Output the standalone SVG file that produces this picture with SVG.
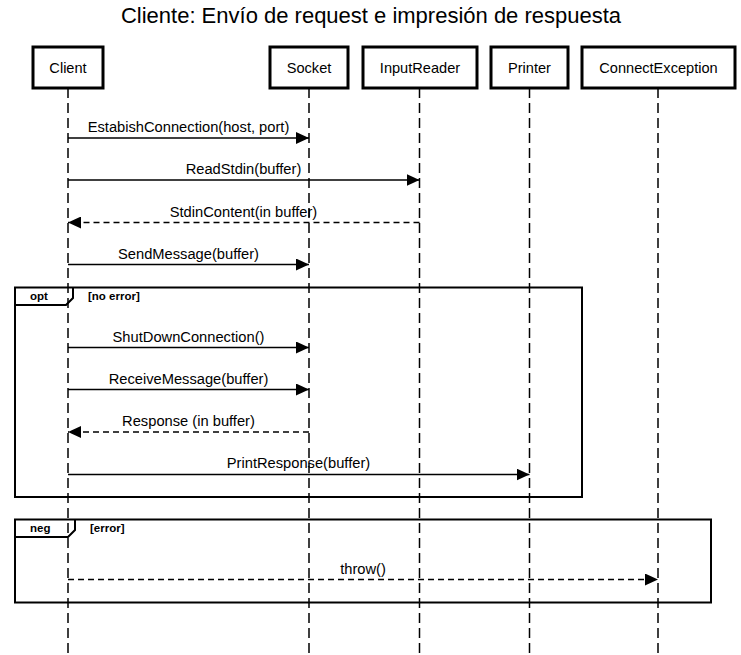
<svg xmlns="http://www.w3.org/2000/svg" width="741" height="655" viewBox="0 0 741 655">
<defs>
<style>
text{font-family:"Liberation Sans",Arial,sans-serif;fill:#000}
.title{font-size:22px;text-anchor:middle}
.pbox{fill:#fff;stroke:#000;stroke-width:3}
.pl{font-size:14.6px;text-anchor:middle}
.life{stroke:#000;stroke-width:1.5;stroke-dasharray:10 5;fill:none}
.msg{stroke:#000;stroke-width:1.3;fill:none}
.dash{stroke-dasharray:6 4}
.ml{font-size:14.7px;text-anchor:middle}
.frame{fill:none;stroke:#000;stroke-width:2}
.fl{font-size:11.5px;font-weight:bold}
</style>
<marker id="ah" viewBox="0 0 13 12" refX="13" refY="6" markerWidth="13" markerHeight="12" markerUnits="userSpaceOnUse" orient="auto">
<path d="M0,0 L13,6 L0,12 Z" fill="#000"/>
</marker>
</defs>
<text class="title" x="371" y="23">Cliente: Envío de request e impresión de respuesta</text>
<g id="lifelines">
<line class="life" x1="68" y1="88" x2="68" y2="655"/>
<line class="life" x1="309" y1="88" x2="309" y2="655"/>
<line class="life" x1="419.5" y1="88" x2="419.5" y2="655"/>
<line class="life" x1="529.5" y1="88" x2="529.5" y2="655"/>
<line class="life" x1="658" y1="88" x2="658" y2="655"/>
</g>
<g id="Client"><rect class="pbox" x="33" y="47" width="70" height="41"/><text class="pl" x="68" y="73">Client</text></g>
<g id="Socket"><rect class="pbox" x="270" y="47" width="78" height="41"/><text class="pl" x="309" y="73">Socket</text></g>
<g id="InputReader"><rect class="pbox" x="363" y="47" width="114" height="41"/><text class="pl" x="420" y="73">InputReader</text></g>
<g id="Printer"><rect class="pbox" x="491" y="47" width="77" height="41"/><text class="pl" x="529.5" y="73">Printer</text></g>
<g id="ConnectException"><rect class="pbox" x="582" y="47" width="153" height="41"/><text class="pl" x="658.5" y="73">ConnectException</text></g>
<g id="frame-opt">
<rect class="frame" x="15" y="287.5" width="567" height="209.5"/>
<path class="frame" d="M15,305 H66 L73,298 V287.5"/>
<text class="fl" x="30" y="300">opt</text>
<text class="fl" x="88" y="300">[no error]</text>
</g>
<g id="frame-neg">
<rect class="frame" x="15" y="519.5" width="696" height="83"/>
<path class="frame" d="M15,537 H68 L75,530 V519.5"/>
<text class="fl" x="30" y="532">neg</text>
<text class="fl" x="90" y="532">[error]</text>
</g>
<g id="connectors">
<line class="msg" x1="68" y1="138" x2="309" y2="138" marker-end="url(#ah)"/>
<text class="ml" x="188.5" y="132">EstabishConnection(host, port)</text>
<line class="msg" x1="68" y1="180" x2="419.5" y2="180" marker-end="url(#ah)"/>
<text class="ml" x="243.5" y="174">ReadStdin(buffer)</text>
<line class="msg dash" x1="419.5" y1="222.5" x2="68" y2="222.5" marker-end="url(#ah)"/>
<text class="ml" x="243.5" y="217">StdinContent(in buffer)</text>
<line class="msg" x1="68" y1="264.5" x2="309" y2="264.5" marker-end="url(#ah)"/>
<text class="ml" x="188.5" y="259">SendMessage(buffer)</text>
<line class="msg" x1="68" y1="347.5" x2="309" y2="347.5" marker-end="url(#ah)"/>
<text class="ml" x="188.5" y="342">ShutDownConnection()</text>
<line class="msg" x1="68" y1="389.5" x2="309" y2="389.5" marker-end="url(#ah)"/>
<text class="ml" x="188.5" y="384">ReceiveMessage(buffer)</text>
<line class="msg dash" x1="309" y1="432" x2="68" y2="432" marker-end="url(#ah)"/>
<text class="ml" x="188.5" y="426">Response (in buffer)</text>
<line class="msg" x1="68" y1="474.5" x2="529.5" y2="474.5" marker-end="url(#ah)"/>
<text class="ml" x="298.5" y="468">PrintResponse(buffer)</text>
<line class="msg dash" x1="68" y1="579.5" x2="658" y2="579.5" marker-end="url(#ah)"/>
<text class="ml" x="363" y="574">throw()</text>
</g>
</svg>
